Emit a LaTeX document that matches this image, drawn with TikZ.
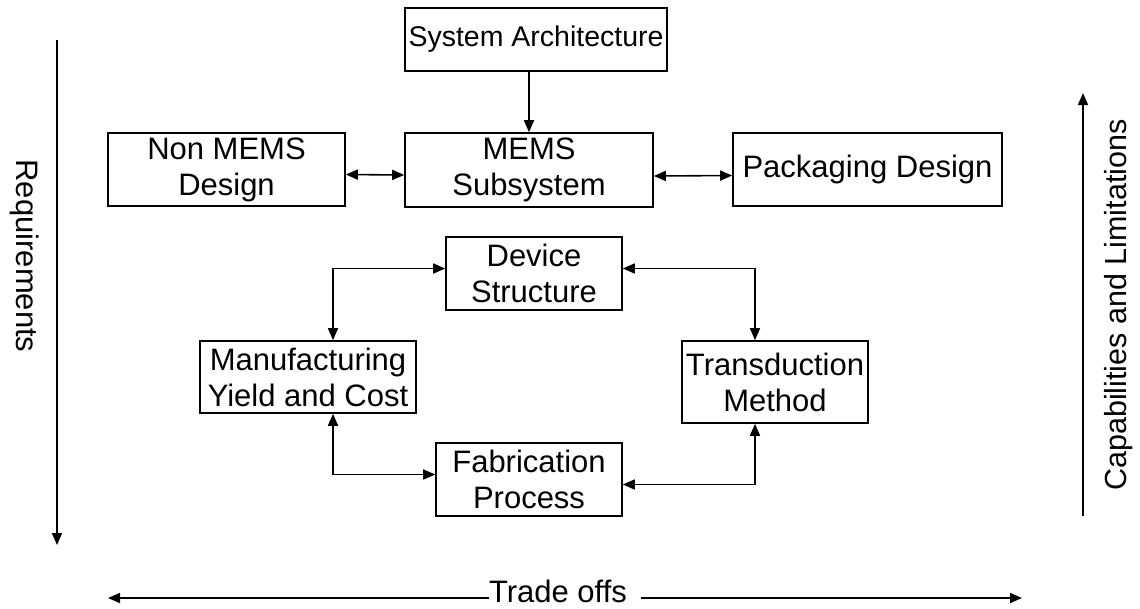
\documentclass[tikz,border=0pt]{standalone}
\usepackage{fontspec}
\setmainfont{Liberation Sans}
\usetikzlibrary{arrows.meta}
\begin{document}
\begin{tikzpicture}[x=1pt,y=-1pt,
  box/.style={draw, line width=1.6pt, align=center, inner sep=0pt,
    font=\fontsize{31}{36}\selectfont},
  lbl/.style={inner sep=0pt, font=\fontsize{31}{36}\selectfont},
  arr/.style={line width=1.6pt, -{Triangle[length=12pt,width=10pt]}},
  darr/.style={line width=1.6pt, {Triangle[length=12pt,width=10pt]}-{Triangle[length=12pt,width=10pt]}}]
\useasboundingbox (0,0) rectangle (1140,608);

\node[box, minimum width=262pt, minimum height=63pt, font=\fontsize{28.5}{34}\selectfont] (sa) at (536,39.5) {System Architecture};
\node[box, minimum width=248pt, minimum height=74pt] (mems) at (529,170) {MEMS\\Subsystem};
\node[box, minimum width=237pt, minimum height=73pt] (nonmems) at (226.5,169.5) {Non MEMS\\Design};
\node[box, minimum width=269pt, minimum height=73pt] (pack) at (867.5,169.5) {Packaging Design};
\node[box, minimum width=176pt, minimum height=73pt] (dev) at (534,273.5) {Device\\Structure};
\node[box, minimum width=216pt, minimum height=72pt] (manu) at (308,377) {Manufacturing\\Yield and Cost};
\node[box, minimum width=186pt, minimum height=82pt] (trans) at (775,382) {Transduction\\Method};
\node[box, minimum width=186pt, minimum height=73pt] (fab) at (529,479.5) {Fabrication\\Process};

\draw[arr] (sa.south -| mems.north) -- (mems.north);
\draw[darr] ([yshift=-5pt]nonmems.east) -- ([yshift=-5pt]mems.west);
\draw[darr] ([yshift=-6pt]mems.east) -- ([yshift=-6pt]pack.west);
\draw[darr] ([xshift=25pt]manu.north) |- ([yshift=5pt]dev.west);
\draw[darr] ([yshift=5pt]dev.east) -| ([xshift=-20pt]trans.north);
\draw[darr] ([xshift=25pt]manu.south) |- ([yshift=5pt]fab.west);
\draw[darr] ([xshift=-20pt]trans.south) |- ([yshift=-5pt]fab.east);

% Requirements
\coordinate (lt) at (57,40);
\coordinate (lb) at (57,545);
\draw[arr] (lt) -- (lb);
\node[lbl, rotate=-90] (req) at (25,256) {Requirements};

% Capabilities
\coordinate (rb) at (1083,516);
\coordinate (rt) at (1083,93);
\draw[arr] (rb) -- (rt);
\node[lbl, rotate=90, font=\fontsize{30.5}{36}\selectfont] (cap) at (1119,305) {Capabilities and Limitations};

% Trade offs
\node[lbl, anchor=base] (trade) at (558,602) {Trade offs};
\coordinate (tl) at (108,598);
\coordinate (tr) at (1022,598);
\draw[arr] (trade.west |- tl) -- (tl);
\draw[arr] ([xshift=14pt]trade.east |- tr) -- (tr);
\end{tikzpicture}
\end{document}
